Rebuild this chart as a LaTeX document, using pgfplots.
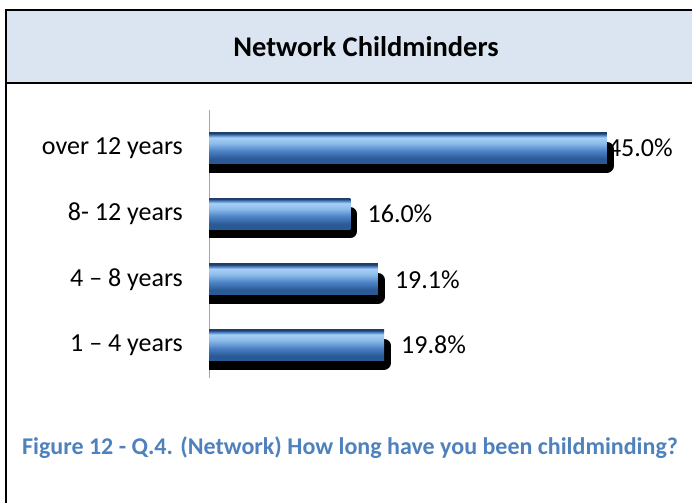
\documentclass[border=0pt]{standalone}
\usepackage{pgfplots}
\pgfplotsset{compat=1.18}
\usepackage{fontspec}
\setmainfont{Carlito}
\definecolor{titlefill}{HTML}{DBE5F1}
\definecolor{capblue}{HTML}{4F81BD}
\definecolor{bdark}{HTML}{2A5A96}
\definecolor{bmid}{HTML}{4A80C4}
\definecolor{blight}{HTML}{8CBCEB}
\definecolor{blight2}{HTML}{A8D0F6}
\definecolor{bedge}{HTML}{1F3F6A}
\pgfdeclareverticalshading{barshade}{100bp}{color(0bp)=(bdark); color(25bp)=(bdark); color(33bp)=(bdark); color(45bp)=(bmid); color(58bp)=(blight); color(67bp)=(blight2); color(71bp)=(bmid); color(74bp)=(bedge); color(75bp)=(bedge); color(100bp)=(bedge)}
\pgfplotstableread{
y val
0 19.8
1 19.1
2 16.0
3 45.0
}\datatable
\begin{document}
\begin{tikzpicture}[x=1pt,y=1pt]
\useasboundingbox (0,0) rectangle (692,-503);
\fill[white] (0,0) rectangle (692,-503);
\filldraw[fill=titlefill, draw=black, line width=1.5pt] (6,-10) rectangle (700,-83);
\draw[line width=2pt] (6,-10) -- (6,-503);
\node[font=\fontsize{28.5}{32}\selectfont\bfseries] at (366,-47) {Network Childminders};
\begin{axis}[
  at={(209pt,-378pt)}, anchor=south west,
  scale only axis, width=442pt, height=268pt,
  xmin=0, xmax=50, ymin=-0.5, ymax=3.58,
  axis x line=none,
  axis y line*=left,
  y axis line style={draw=gray!70, line width=1pt, -},
  ytick={0,1,2,3},
  yticklabels={1 – 4 years, 4 – 8 years, 8- 12 years, over 12 years},
  major tick length=0pt,
  ytick style={draw=none},
  yticklabel style={font=\fontsize{26}{30}\selectfont, inner sep=0pt, xshift=-26pt},
  /pgf/number format/assume math mode=true,
  xbar,
  clip=true,
]
% labels (drawn first so that the shadow may cover them)
\addplot[draw=none, fill=none, bar shift=0pt, bar width=31pt,
  nodes near coords={\pgfmathprintnumber[fixed,fixed zerofill,precision=1,assume math mode=true]{\pgfplotspointmeta}\%},
  nodes near coords style={font=\fontsize{26}{30}\selectfont, anchor=west, inner sep=0pt, xshift=17pt, text=black},
  coordinate style/.condition={x>40}{xshift=-16pt}]
  table[x=val,y=y]{\datatable};
% shadow
\addplot[fill=black, draw=black, line width=14pt, line join=round, bar shift=-9pt, bar width=17pt]
  table[x=val,y=y]{\datatable};
% bars, one plot each so that each carries its own shading
\addplot[draw=none, shading=barshade, bar shift=0pt, bar width=31pt] coordinates {(19.8,0)};
\addplot[draw=none, shading=barshade, bar shift=0pt, bar width=31pt] coordinates {(19.1,1)};
\addplot[draw=none, shading=barshade, bar shift=0pt, bar width=31pt] coordinates {(16.0,2)};
\addplot[draw=none, shading=barshade, bar shift=0pt, bar width=31pt] coordinates {(45.0,3)};
\end{axis}
\node[font=\fontsize{24}{28}\selectfont\bfseries, text=capblue] at (350,-448) {Figure 12 - Q.4. (Network) How long have you been childminding?};
\end{tikzpicture}
\end{document}
